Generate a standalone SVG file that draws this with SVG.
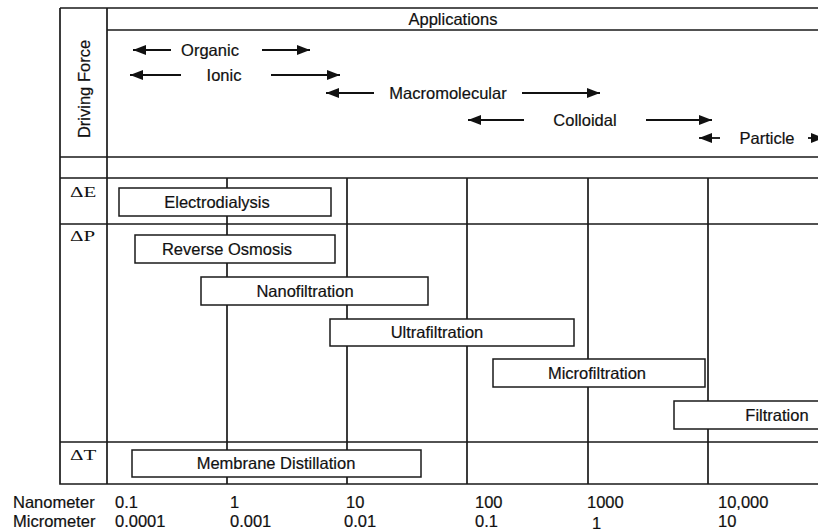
<svg xmlns="http://www.w3.org/2000/svg" width="818" height="532" viewBox="0 0 818 532">
<defs>
<marker id="ah" viewBox="0 0 13 10" refX="13" refY="5" markerWidth="13" markerHeight="10" markerUnits="userSpaceOnUse" orient="auto-start-reverse">
<path d="M0,0 L13,5 L0,10 Z" fill="#111"/>
</marker>
<style>
.ln{stroke:#1a1a1a;stroke-width:1.7;fill:none}
.bx{stroke:#1a1a1a;stroke-width:1.5;fill:#fff}
.t{font-family:"Liberation Sans",Arial,sans-serif;font-size:16.5px;fill:#111;stroke:#111;stroke-width:0.2}
.c{text-anchor:middle}
.d{font-family:"Liberation Serif","Times New Roman",serif;font-size:15px;fill:#111}
.ar{stroke:#111;stroke-width:1.8;fill:none}
</style>
</defs>
<rect width="818" height="532" fill="#fff"/>
<g id="grid">
<path class="ln" d="M60,8 H818 M60,8 V484 H818 M107,8 V484 M107,30 H818 M60,157 H818 M60,178 H818 M60,224 H818 M60,442 H818 M227,178 V484 M347,178 V484 M467,178 V484 M588,178 V484 M708,178 V484"/>
</g>
<g id="headers">
<text class="t c" x="453" y="25">Applications</text>
<text class="t c" transform="translate(90,89) rotate(-90)">Driving Force</text>
<text class="d" transform="translate(70,197) scale(1.4,1)">ΔE</text>
<text class="d" transform="translate(70,241) scale(1.4,1)">ΔP</text>
<text class="d" transform="translate(70,460) scale(1.4,1)">ΔT</text>
</g>
<g id="connectors">
<line class="ar" x1="171" y1="50" x2="133" y2="50" marker-end="url(#ah)"/>
<line class="ar" x1="262" y1="50" x2="310" y2="50" marker-end="url(#ah)"/>
<line class="ar" x1="181" y1="75" x2="130" y2="75" marker-end="url(#ah)"/>
<line class="ar" x1="271" y1="75" x2="340" y2="75" marker-end="url(#ah)"/>
<line class="ar" x1="374" y1="93" x2="326" y2="93" marker-end="url(#ah)"/>
<line class="ar" x1="522" y1="93" x2="600" y2="93" marker-end="url(#ah)"/>
<line class="ar" x1="524" y1="120" x2="468" y2="120" marker-end="url(#ah)"/>
<line class="ar" x1="646" y1="120" x2="712" y2="120" marker-end="url(#ah)"/>
<line class="ar" x1="720" y1="138" x2="699" y2="138" marker-end="url(#ah)"/>
<line class="ar" x1="808" y1="138" x2="824" y2="138" marker-end="url(#ah)"/>
</g>
<g id="apps">
<text class="t c" x="210" y="56">Organic</text>
<text class="t c" x="224" y="81">Ionic</text>
<text class="t c" x="448" y="99">Macromolecular</text>
<text class="t c" x="585" y="126">Colloidal</text>
<text class="t c" x="767" y="144">Particle</text>
</g>
<g id="electrodialysis"><rect class="bx" x="119" y="188" width="212" height="28"/><text class="t c" x="217" y="208">Electrodialysis</text></g>
<g id="reverse-osmosis"><rect class="bx" x="135" y="235" width="200" height="28"/><text class="t c" x="227" y="255">Reverse Osmosis</text></g>
<g id="nanofiltration"><rect class="bx" x="201" y="277" width="227" height="28"/><text class="t c" x="305" y="297">Nanofiltration</text></g>
<g id="ultrafiltration"><rect class="bx" x="330" y="319" width="244" height="27"/><text class="t c" x="437" y="338">Ultrafiltration</text></g>
<g id="microfiltration"><rect class="bx" x="493" y="359" width="212" height="28"/><text class="t c" x="597" y="379">Microfiltration</text></g>
<g id="filtration"><rect class="bx" x="674" y="401" width="160" height="28"/><text class="t c" x="777" y="421">Filtration</text></g>
<g id="membrane-distillation"><rect class="bx" x="132" y="450" width="289" height="27"/><text class="t c" x="276" y="469">Membrane Distillation</text></g>
<g id="axis">
<text class="t" x="13" y="508">Nanometer</text>
<text class="t" x="13" y="527">Micrometer</text>
<text class="t" x="115" y="508">0.1</text>
<text class="t" x="115" y="527">0.0001</text>
<text class="t" x="230" y="508">1</text>
<text class="t" x="230" y="527">0.001</text>
<text class="t" x="346" y="508">10</text>
<text class="t" x="344" y="527">0.01</text>
<text class="t" x="475" y="508">100</text>
<text class="t" x="475" y="527">0.1</text>
<text class="t" x="587" y="508">1000</text>
<text class="t" x="592" y="529">1</text>
<text class="t" x="718" y="508">10,000</text>
<text class="t" x="718" y="527">10</text>
</g>
</svg>
